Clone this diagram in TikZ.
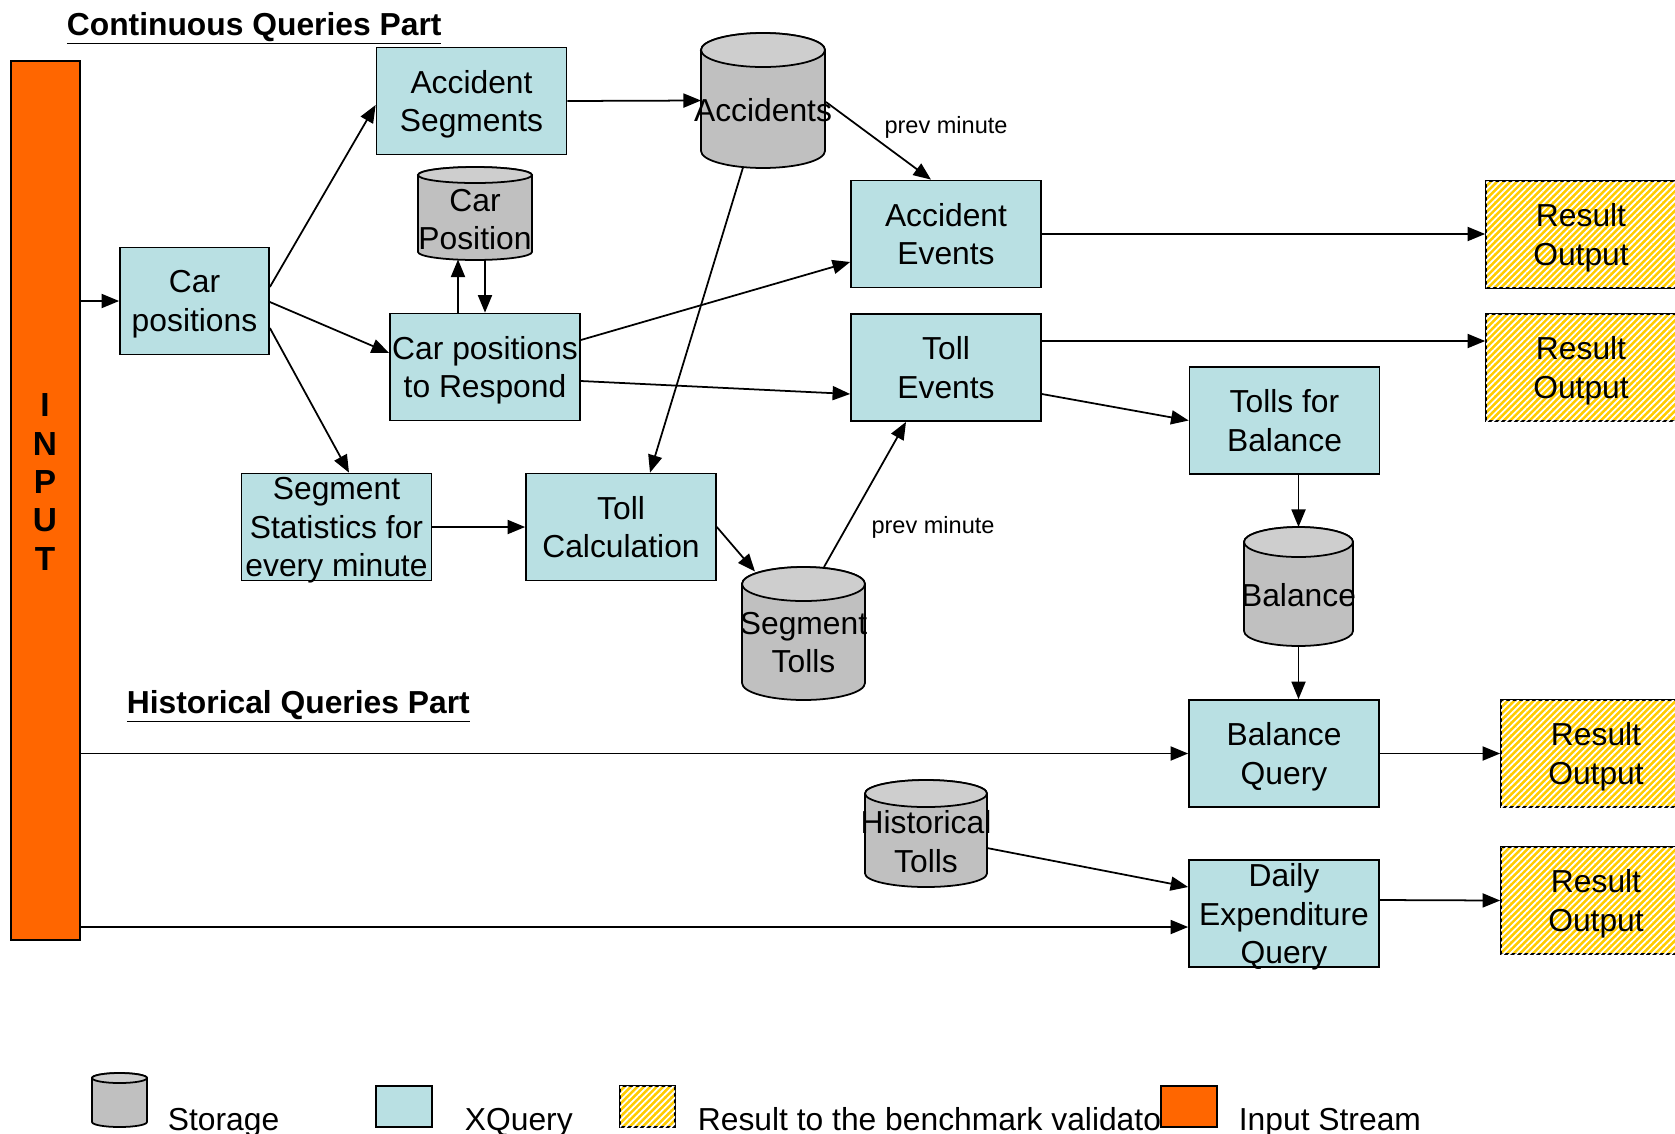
\documentclass[tikz,border=0pt]{standalone}
\usepackage{fontspec}
\setmainfont{Liberation Sans}
\usetikzlibrary{shapes,arrows.meta,positioning,calc,patterns.meta}

\definecolor{querycyan}{RGB}{185,224,227}
\definecolor{streamorange}{RGB}{255,102,0}
\definecolor{resultgold}{RGB}{255,204,0}
\definecolor{storegray}{RGB}{192,192,192}
\definecolor{storetop}{RGB}{206,206,206}

\newcommand{\boxfont}{\fontsize{18.1}{21.8}\selectfont}
\newcommand{\notefont}{\fontsize{13.4}{16}\selectfont}
\newcommand{\pptstrut}{\rule{0pt}{1.08em}}
% storage cylinder drawn round a named node: node, x radius, y radius
\newcommand{\drawstore}[3]{%
  \draw[fill=storegray] ([yshift=-#3]#1.north west) -- ([yshift=#3]#1.south west)
    arc[start angle=180, end angle=360, x radius=#2, y radius=#3]
    -- ([yshift=-#3]#1.north east)
    arc[start angle=0, end angle=180, x radius=#2, y radius=#3] -- cycle;
  \draw[fill=storetop] ([yshift=-#3]#1.north) ellipse[x radius=#2, y radius=#3];
}

\tikzstyle{Query}  = [draw, rectangle, fill=querycyan, minimum width=3.8cm, minimum height=2.14cm, inner sep=0pt, align=center, font=\boxfont, text depth=-1.9pt]
\tikzstyle{Result} = [draw, rectangle, fill=resultgold, postaction={pattern={Lines[angle=45,distance=2.6pt,line width=1pt]}, pattern color=white}, minimum width=3.8cm, minimum height=2.14cm, inner sep=0pt, align=center, font=\boxfont, text depth=-1.9pt]
\tikzstyle{Store}  = [rectangle, inner sep=0pt, outer sep=0pt]
\tikzstyle{StoreText} = [font=\boxfont, align=center, inner sep=0pt, yshift=-0.12cm, execute at begin node=\pptstrut]
\tikzstyle{Stream} = [draw, rectangle, fill=streamorange, minimum width=1.38cm, minimum height=17.58cm, inner sep=0pt]
\tikzstyle{Title}  = [anchor=base west, inner sep=0pt, font=\bfseries\boxfont]
\tikzstyle{Note}   = [inner sep=0pt, font=\notefont]
\tikzstyle{Legend} = [anchor=base west, inner sep=0pt, font=\boxfont]

\begin{document}
\begin{tikzpicture}[x=0.02cm, y=-0.02cm, line width=1pt, >={Triangle[length=10pt,width=8pt]}]
    \useasboundingbox (0,0) rectangle (1675,1133);
    % titles
    \node[Title] (conttitle) at (66,35)  {\underline{Continuous Queries Part}};
    \node[Title] (histtitle) at (126,713) {\underline{Historical Queries Part}};
    % input stream
    \node[Stream] (input) at (45.5,500.5) {};
    \node[font=\bfseries\fontsize{19}{21.9}\selectfont, align=center, inner sep=0pt] (inputtext) at (45,482) {I\\N\\P\\U\\T};
    % continuous queries
    \node[Query, minimum width=2.98cm] (carpos) at (194.5,301) {Car\\positions};
    \node[Query] (accseg)   at (471.5,101) {Accident\\Segments};
    \node[Query] (cpresp)   at (485,367)   {Car positions\\to Respond};
    \node[Store, minimum width=2.28cm, minimum height=1.86cm] (carstore) at (475,213.5) {};
    \drawstore{carstore}{1.14cm}{0.16cm}
    \node[StoreText] (carstoretext) at (carstore) {Car\\Position};
    \node[Store, minimum width=2.48cm, minimum height=2.7cm] (accidents) at (763,100.5) {};
    \drawstore{accidents}{1.24cm}{0.34cm}
    \node[StoreText] (accidentstext) at ($(accidents)+(0,-2)$) {Accidents};
    \node[Query] (accev)    at (946,234)   {Accident\\Events};
    \node[Query] (tollev)   at (946,367.5) {Toll\\Events};
    \node[Query] (tollbal)  at (1284.5,420.5) {Tolls for\\Balance};
    \node[Query] (segstat)  at (336.5,527) {Segment\\Statistics for\\every minute};
    \node[Query] (tollcalc) at (621,527)   {Toll\\Calculation};
    \node[Store, minimum width=2.46cm, minimum height=2.66cm] (segtolls) at (803.5,633.5) {};
    \drawstore{segtolls}{1.23cm}{0.34cm}
    \node[StoreText] (segtollstext) at ($(segtolls)+(0,3)$) {Segment\\Tolls};
    \node[Store, minimum width=2.18cm, minimum height=2.38cm] (balance) at (1298.5,586.5) {};
    \drawstore{balance}{1.09cm}{0.3cm}
    \node[StoreText] (balancetext) at ($(balance)+(0,-3)$) {Balance};
    % historical queries
    \node[Query] (balquery) at (1284,753.5) {Balance\\Query};
    \node[Store, minimum width=2.44cm, minimum height=2.14cm] (histtolls) at (926,833.5) {};
    \drawstore{histtolls}{1.22cm}{0.27cm}
    \node[StoreText] (histtollstext) at ($(histtolls)+(0,2)$) {Historical\\Tolls};
    \node[Query] (dailyexp) at (1284,913.5) {Daily\\Expenditure\\Query};
    % outputs
    \node[Result] (out1) at (1581,234.5) {Result\\Output};
    \node[Result] (out2) at (1581,367.5) {Result\\Output};
    \node[Result] (out3) at (1596,753.5) {Result\\Output};
    \node[Result] (out4) at (1596,900.5) {Result\\Output};
    \node[Note] (prevacc)  at (946,127) {prev minute};
    \node[Note] (prevtoll) at (933,527) {prev minute};
    \coordinate (deqin) at ($(dailyexp.west)+(0,13.5)$);
    % connectors
    \draw[->] (input.east |- carpos.west) -- (carpos.west);
    \draw[->] ($(carpos.east)+(0,-14)$) -- ($(accseg.west)+(0,4)$);
    \draw[->] ($(carpos.east)+(0,1)$)   -- ($(cpresp.west)+(0,-14)$);
    \draw[->] ($(carpos.east)+(0,27)$)  -- ($(segstat.north)+(12.5,0)$);
    \draw[->] (accseg.east) -- ($(accidents.center)+(-62,0)$);
    \draw[->] ($(accidents.center)+(63,1.5)$) -- ($(accev.north)+(-15,0)$);
    \draw[->] ($(accidents.center)+(-20,67)$) -- ($(tollcalc.north)+(29,0)$);
    \draw[->] ($(cpresp.north)+(-27,0)$) -- ($(carstore.center)+(-17,46)$);
    \draw[->] ($(carstore.center)+(10,46)$) -- (cpresp.north);
    \draw[->] ($(cpresp.east)+(0,-27)$) -- ($(accev.west)+(0,28)$);
    \draw[->] ($(cpresp.east)+(0,14)$)  -- ($(tollev.west)+(0,26.5)$);
    \draw[->] (segstat.east) -- (tollcalc.west);
    \draw[->] (tollcalc.east) -- ($(segtolls.center)+(-48.5,-62)$);
    \draw[->] ($(segtolls.center)+(20.5,-66.5)$) -- ($(tollev.south)+(-40,0)$);
    \draw[->] (accev.east) -- (accev.east -| out1.west);
    \draw[->] ($(tollev.east)+(0,-26.5)$) -- ($(out2.west)+(0,-26.5)$);
    \draw[->] ($(tollev.east)+(0,26.5)$) -- (tollbal.west);
    \draw[->] ($(tollbal.south)+(14,0)$) -- ($(balance.center)+(0,-59.5)$);
    \draw[->] ($(balance.center)+(0,59.5)$) -- ($(balquery.north)+(14.5,0)$);
    \draw[->] (input.east |- balquery.west) -- (balquery.west);
    \draw[->] (balquery.east) -- (out3.west);
    \draw[->] ($(histtolls.center)+(61,14.5)$) -- ($(dailyexp.west)+(0,-26.5)$);
    \draw[->] (input.east |- deqin) -- (deqin);
    \draw[->] ($(dailyexp.east)+(0,-13.5)$) -- (out4.west);
    % legend
    \node[Store, minimum width=1.1cm, minimum height=1.08cm] (legstore) at (119.5,1100) {};
    \drawstore{legstore}{0.55cm}{0.1cm}
    \node[Legend] (legstoretext) at (167,1130) {Storage};
    \node[Query, minimum width=1.12cm, minimum height=0.82cm] (legquery) at (404,1106.5) {};
    \node[Legend] (legquerytext) at (464,1130) {XQuery};
    \node[Result, minimum width=1.1cm, minimum height=0.82cm] (legresult) at (647.5,1106.5) {};
    \node[Legend] (legresulttext) at (697,1130) {Result to the benchmark validato};
    \node[Stream, minimum width=1.12cm, minimum height=0.82cm] (legstream) at (1189,1106.5) {};
    \node[Legend] (legstreamtext) at (1238,1130) {Input Stream};
\end{tikzpicture}
\end{document}
